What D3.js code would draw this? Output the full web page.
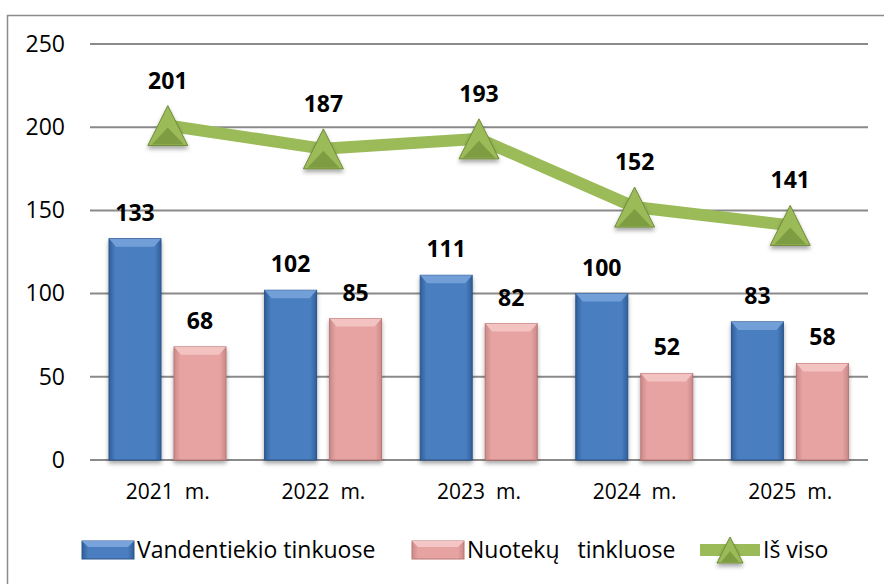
<!DOCTYPE html>
<html>
<head>
<meta charset="utf-8">
<title>Avarijos</title>
<script src="https://cdn.jsdelivr.net/npm/d3@7/dist/d3.min.js"></script>
<style>
  body { margin: 0; background: #fff; }
  text { font-family: "Open Sans", sans-serif; fill: #000; }
  .lbl { font-weight: bold; font-size: 23px; }
</style>
</head>
<body>
<svg id="chart" width="884" height="584"></svg>
<script>
// data
var years = ["2021  m.", "2022  m.", "2023  m.", "2024  m.", "2025  m."];
var vandentiekio = [133, 102, 111, 100, 83];
var nuoteku = [68, 85, 82, 52, 58];
var isViso = [201, 187, 193, 152, 141];
var yTicks = [0, 50, 100, 150, 200, 250];
var seriesNames = ["Vandentiekio tinkuose", "Nuotekų   tinkluose", "Iš viso"];

var svg = d3.select("#chart");
var defs = svg.append("defs");

// bar gradients (dark edges, lighter middle)
function sideGrad(id, edge, mid) {
  var g = defs.append("linearGradient").attr("id", id).attr("x1", 0).attr("x2", 1).attr("y1", 0).attr("y2", 0);
  g.append("stop").attr("offset", "0").attr("stop-color", edge);
  g.append("stop").attr("offset", "0.12").attr("stop-color", mid);
  g.append("stop").attr("offset", "0.88").attr("stop-color", mid);
  g.append("stop").attr("offset", "1").attr("stop-color", edge);
}
sideGrad("gBlue", "#2f5f9a", "#4a7ec0");
sideGrad("gPink", "#c98a89", "#e6a3a2");
var sh = defs.append("filter").attr("id", "shadow").attr("x", "-30%").attr("y", "-30%").attr("width", "160%").attr("height", "170%");
sh.append("feDropShadow").attr("dx", 0).attr("dy", 3).attr("stdDeviation", 2).attr("flood-color", "#000").attr("flood-opacity", 0.35);

// frame
svg.append("rect").attr("x", 7.5).attr("y", 15.5).attr("width", 900).attr("height", 620)
  .attr("fill", "none").attr("stroke", "#8c8c8c").attr("stroke-width", 1.5);

var x0 = d3.scaleBand().domain(years).range([90, 868]);
var x1 = d3.scaleBand().domain([0, 1]).range([19, 136]).paddingInner(0.2);
var y = d3.scaleLinear().domain([0, 250]).range([460, 44]);

// grid + y axis
var yAxis = d3.axisLeft(y).tickValues(yTicks).tickSize(0).tickPadding(25);
var gy = svg.append("g").attr("transform", "translate(90,0)").call(yAxis);
gy.select(".domain").remove();
gy.selectAll("text").style("font-size", "23px").attr("fill", "#000");
svg.append("g").selectAll("line").data(yTicks).join("line")
  .attr("x1", 90).attr("x2", 868)
  .attr("y1", function(d) { return y(d); }).attr("y2", function(d) { return y(d); })
  .attr("stroke", "#8a8a8a").attr("stroke-width", 2);

// x axis labels
var xAxis = d3.axisBottom(x0).tickSize(0).tickPadding(24);
var gx = svg.append("g").attr("transform", "translate(0,460)").call(xAxis);
gx.select(".domain").remove();
gx.selectAll("text").style("font-size", "21px").style("white-space", "pre").attr("fill", "#000");

// bars
var bars = [
  { vals: vandentiekio, fill: "url(#gBlue)", stroke: "#2a5489", bevel: "#78a3dc" },
  { vals: nuoteku, fill: "url(#gPink)", stroke: "#b97473", bevel: "#f4c6c5" }
];
var bw = x1.bandwidth();
bars.forEach(function(s, si) {
  var g = svg.append("g");
  var item = g.selectAll("g").data(s.vals).join("g")
    .attr("transform", function(d, i) { return "translate(" + (x0(years[i]) + x1(si)) + ",0)"; });
  item.append("rect")
    .attr("x", 0).attr("y", function(d) { return y(d); })
    .attr("width", bw).attr("height", function(d) { return y(0) - y(d); })
    .attr("fill", s.fill).attr("stroke", s.stroke).attr("stroke-width", 1)
    .attr("filter", "url(#shadow)");
  // top bevel
  item.append("path")
    .attr("d", function(d) {
      var t = y(d);
      return "M0," + t + "L" + bw + "," + t + "L" + (bw - 7) + "," + (t + 8) + "L7," + (t + 8) + "Z";
    })
    .attr("fill", s.bevel).attr("opacity", 0.9);
  item.append("text").attr("class", "lbl")
    .attr("x", bw / 2).attr("y", function(d) { return y(d) - 18; })
    .attr("text-anchor", "middle").text(function(d) { return d; });
});

// total line
var cx = function(i) { return x0(years[i]) + x0.bandwidth() / 2; };
var line = d3.line().x(function(d, i) { return cx(i); }).y(function(d) { return y(d); });
svg.append("path").datum(isViso).attr("d", line)
  .attr("fill", "none").attr("stroke", "#9bbb59").attr("stroke-width", 12);

function triangle(g, size) {
  var h = size / 2;
  g.append("path").attr("d", "M0," + (-h) + "L" + h + "," + h + "L" + (-h) + "," + h + "Z")
    .attr("fill", "#9bbb59").attr("stroke", "#6f8a37").attr("stroke-width", 1)
    .attr("filter", "url(#shadow)");
  g.append("path").attr("d", "M0," + (h * 0.1) + "L" + (h - 4) + "," + (h - 1) + "L" + (-(h - 4)) + "," + (h - 1) + "Z")
    .attr("fill", "#7e9d43");
}
var pts = svg.append("g").selectAll("g").data(isViso).join("g")
  .attr("transform", function(d, i) { return "translate(" + cx(i) + "," + y(d) + ")"; });
pts.each(function() { triangle(d3.select(this), 40); });
pts.append("text").attr("class", "lbl").attr("text-anchor", "middle")
  .attr("y", -37).text(function(d) { return d; });

// legend
var lg = svg.append("g").attr("transform", "translate(0,550)");
lg.append("rect").attr("x", 82).attr("y", -9).attr("width", 52).attr("height", 18)
  .attr("fill", "url(#gBlue)").attr("stroke", "#2a5489");
lg.append("path").attr("d", "M82,-9L134,-9L128,-3L88,-3Z").attr("fill", "#78a3dc");
lg.append("text").attr("x", 137).attr("y", 8).style("font-size", "23px").text(seriesNames[0]);
lg.append("rect").attr("x", 412).attr("y", -9).attr("width", 52).attr("height", 18)
  .attr("fill", "url(#gPink)").attr("stroke", "#b97473");
lg.append("path").attr("d", "M412,-9L464,-9L458,-3L418,-3Z").attr("fill", "#f4c6c5");
lg.append("text").attr("x", 467).attr("y", 8).style("font-size", "23px").style("white-space", "pre").text(seriesNames[1]);
lg.append("line").attr("x1", 700).attr("x2", 760).attr("y1", 0).attr("y2", 0)
  .attr("stroke", "#9bbb59").attr("stroke-width", 12);
var lt = lg.append("g").attr("transform", "translate(730,0)");
triangle(lt, 26);
lg.append("text").attr("x", 763).attr("y", 8).style("font-size", "23px").text(seriesNames[2]);
</script>
</body>
</html>
